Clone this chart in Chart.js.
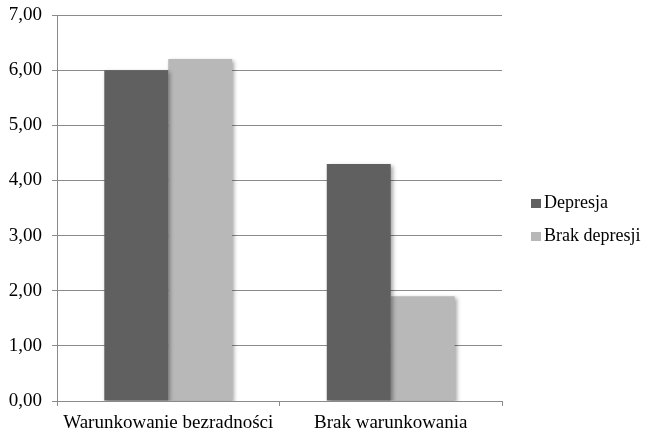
<!DOCTYPE html>
<html>
<head>
<meta charset="utf-8">
<script src="https://cdn.jsdelivr.net/npm/chart.js@4/dist/chart.umd.min.js"></script>
<style>
  html, body { margin: 0; padding: 0; background: #fff; }
  #wrap { width: 647px; height: 434px; }
</style>
</head>
<body>
<div id="wrap"><canvas id="c"></canvas></div>
<script>
const categories = ['Warunkowanie bezradności', 'Brak warunkowania'];
const depresja = [6.0, 4.3];
const brakDepresji = [6.2, 1.9];
const seriesNames = ['Depresja', 'Brak depresji'];
const seriesColors = ['#606060', '#b8b8b8'];
const yTicks = [0, 1, 2, 3, 4, 5, 6, 7];

const FONT = '"Liberation Serif", "Times New Roman", serif';
const AXIS_SIZE = 19;
const LEGEND_SIZE = 18;
const GRID = '#8a8a8a';

// soft drop shadow under the bars
const barShadow = {
  id: 'barShadow',
  beforeDatasetsDraw(chart) {
    const ctx = chart.ctx;
    ctx.save();
    ctx.shadowColor = 'rgba(0,0,0,0.35)';
    ctx.shadowBlur = 4;
    ctx.shadowOffsetX = 2;
    ctx.shadowOffsetY = 2;
  },
  afterDatasetsDraw(chart) {
    chart.ctx.restore();
  }
};

// compact legend at the right: small square, text right next to it
const sideLegend = {
  id: 'sideLegend',
  afterDraw(chart) {
    const ctx = chart.ctx;
    const area = chart.chartArea;
    const x = area.right + 29;
    const rowGap = 33;
    const firstBase = chart.height / 2 - 9;
    ctx.save();
    ctx.font = LEGEND_SIZE + 'px ' + FONT;
    ctx.textBaseline = 'alphabetic';
    ctx.textAlign = 'left';
    chart.data.datasets.forEach((ds, i) => {
      const base = firstBase + i * rowGap;
      ctx.fillStyle = ds.backgroundColor;
      ctx.fillRect(x, base - 9, 10, 9);
      ctx.fillStyle = '#000';
      ctx.fillText(ds.label, x + 13, base);
    });
    ctx.restore();
  }
};

new Chart(document.getElementById('c'), {
  type: 'bar',
  data: {
    labels: categories,
    datasets: [
      { label: seriesNames[0], data: depresja, backgroundColor: seriesColors[0] },
      { label: seriesNames[1], data: brakDepresji, backgroundColor: seriesColors[1] }
    ]
  },
  options: {
    responsive: true,
    maintainAspectRatio: false,
    animation: false,
    devicePixelRatio: 1,
    layout: { padding: { top: 15, right: 145, bottom: 0, left: 0 } },
    datasets: { bar: { categoryPercentage: 0.575, barPercentage: 1.0 } },
    scales: {
      x: {
        grid: { drawOnChartArea: false, drawTicks: true, tickLength: 5, color: GRID, offset: true },
        border: { color: GRID, width: 1 },
        ticks: { color: '#000', font: { family: FONT, size: AXIS_SIZE }, padding: 6, maxRotation: 0 },
        afterFit(scale) {
          scale.height = 33;
          scale.paddingLeft = 0;
          scale.paddingRight = 0;
        }
      },
      y: {
        min: 0, max: 7,
        afterBuildTicks(scale) { scale.ticks = yTicks.map(v => ({ value: v })); },
        grid: { color: GRID, tickLength: 5 },
        border: { color: GRID, width: 1 },
        ticks: {
          color: '#000',
          font: { family: FONT, size: AXIS_SIZE },
          padding: 10,
          callback: v => Number(v).toFixed(2).replace('.', ',')
        },
        afterFit(scale) {
          scale.width = 57;
          scale.paddingTop = 0;
          scale.paddingBottom = 0;
        }
      }
    },
    plugins: {
      legend: { display: false },
      tooltip: { enabled: false }
    }
  },
  plugins: [barShadow, sideLegend]
});
</script>
</body>
</html>
